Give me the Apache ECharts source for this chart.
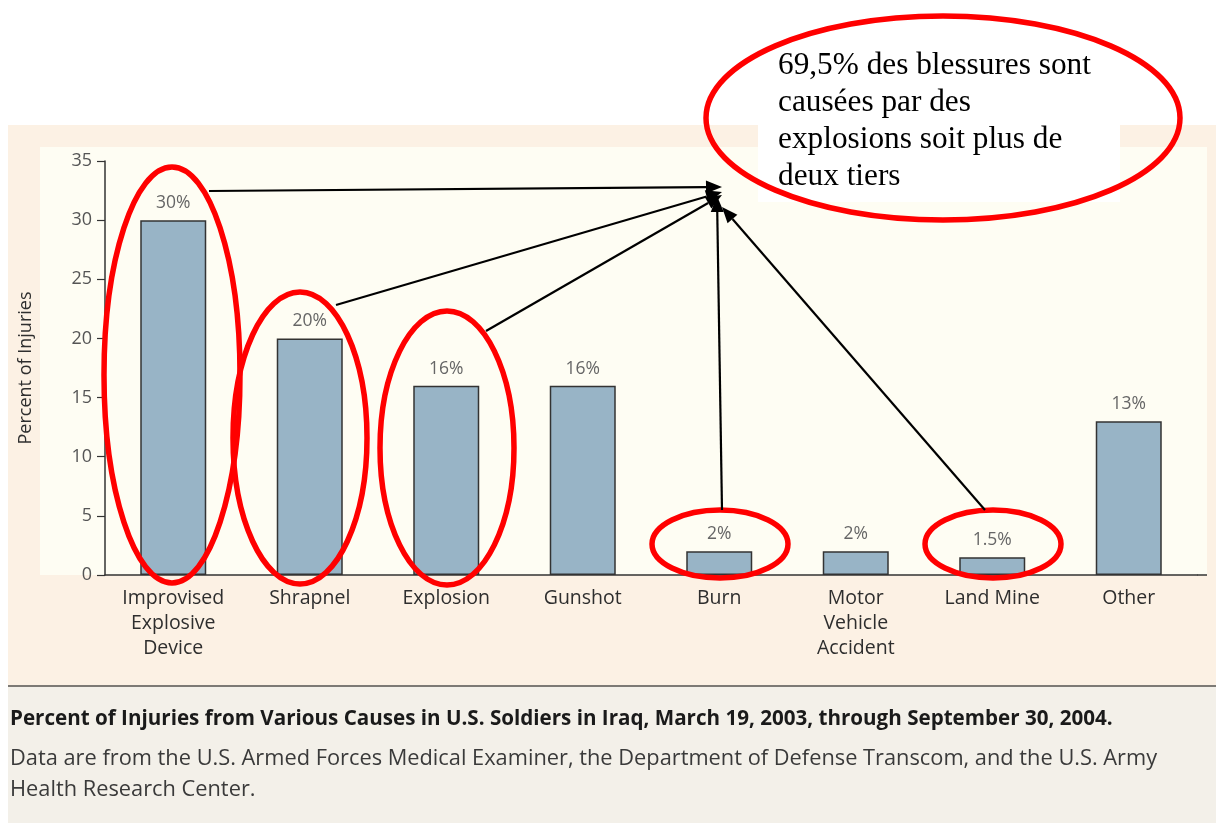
<!DOCTYPE html>
<html>
<head>
<meta charset="utf-8">
<script src="https://cdn.jsdelivr.net/npm/echarts@6/dist/echarts.min.js"></script>
<style>
  html, body { margin: 0; padding: 0; background: #fff; }
  #chart { width: 1216px; height: 823px; }
</style>
</head>
<body>
<div id="chart"></div>
<script>
// data
const categories = [
  'Improvised\nExplosive\nDevice', 'Shrapnel', 'Explosion', 'Gunshot',
  'Burn', 'Motor\nVehicle\nAccident', 'Land Mine', 'Other'
];
const injuryPct = [30, 20, 16, 16, 2, 2, 1.5, 13];

const yMin = 0;
const yMax = 35;
const yStep = 5;

const captionTitle = 'Percent of Injuries from Various Causes in U.S. Soldiers in Iraq, March 19, 2003, through September 30, 2004.';
const captionLines = [
  'Data are from the U.S. Armed Forces Medical Examiner, the Department of Defense Transcom, and the U.S. Army',
  'Health Research Center.'
];
const noteLines = [
  '69,5% des blessures sont',
  'causées par des',
  'explosions soit plus de',
  'deux tiers'
];

const sansFont = '"Open Sans", "DejaVu Sans", sans-serif';
const red = '#ff0000';

// arrow = line + filled triangle at the end
const arrow = (x1, y1, x2, y2) => {
  const ang = Math.atan2(y2 - y1, x2 - x1);
  const len = 16, half = 6.5;
  const bx = x2 - len * Math.cos(ang), by = y2 - len * Math.sin(ang);
  const px = -Math.sin(ang) * half, py = Math.cos(ang) * half;
  return [
    {
      type: 'line', z: 100,
      shape: { x1: x1, y1: y1, x2: bx, y2: by },
      style: { stroke: '#000', lineWidth: 2.2 }
    },
    {
      type: 'polygon', z: 100,
      shape: { points: [[x2, y2], [bx + px, by + py], [bx - px, by - py]] },
      style: { fill: '#000' }
    }
  ];
};

const ring = (cx, cy, rx, ry) => ({
  type: 'ellipse', z: 90,
  shape: { cx: cx, cy: cy, rx: rx, ry: ry },
  style: { fill: null, stroke: red, lineWidth: 5.5 }
});

const chart = echarts.init(document.getElementById('chart'));

const graphics = [
  // panel backgrounds
  { type: 'rect', z: -10, shape: { x: 8, y: 125, width: 1208, height: 561 }, style: { fill: '#fcf1e4' } },
  { type: 'rect', z: -9, shape: { x: 40, y: 147, width: 1167, height: 428 }, style: { fill: '#fefdf3' } },
  { type: 'rect', z: -9, shape: { x: 8, y: 686, width: 1208, height: 137 }, style: { fill: '#f3f0e9' } },
  { type: 'line', z: -8, shape: { x1: 8, y1: 686, x2: 1216, y2: 686 }, style: { stroke: '#7d7a75', lineWidth: 2 } },
  { type: 'line', z: -8, shape: { x1: 1197, y1: 575, x2: 1207, y2: 575 }, style: { stroke: '#333', lineWidth: 1.5 } },
  // caption
  {
    type: 'text', z: 10, left: 10, top: 709,
    style: { text: captionTitle, font: 'bold 20.6px ' + sansFont, fill: '#1a1a1a' }
  },
  {
    type: 'text', z: 10, left: 10, top: 743,
    style: { text: captionLines.join('\n'), font: '21.8px ' + sansFont, fill: '#3a3a3a', lineHeight: 31 }
  },
  // white box behind the note
  { type: 'rect', z: 80, shape: { x: 758, y: 120, width: 362, height: 82 }, style: { fill: '#fff' } },
  {
    type: 'text', z: 95, left: 778, top: 47,
    style: { text: noteLines.join('\n'), font: '31.3px "Liberation Serif", "Times New Roman", serif', fill: '#000', lineHeight: 37 }
  },
  ring(943, 118, 237, 102),
  ring(172, 375, 68, 208),
  ring(300, 438, 67, 146),
  ring(447, 448, 67, 137),
  ring(720, 544, 68, 34),
  ring(993, 544, 68, 34)
].concat(
  arrow(209, 191, 722, 187),
  arrow(336, 305, 722, 192),
  arrow(486, 331, 722, 195),
  arrow(722, 510, 717, 196),
  arrow(985, 510, 722, 207)
);

chart.setOption({
  backgroundColor: '#fff',
  animation: false,
  textStyle: { fontFamily: sansFont },
  grid: { left: 105, right: 19, top: 161, bottom: 248, containLabel: false },
  xAxis: {
    type: 'category',
    data: categories,
    axisLine: { lineStyle: { color: '#333', width: 1.5 } },
    axisTick: { show: false },
    axisLabel: { color: '#2e2e2e', fontSize: 19.5, lineHeight: 25, margin: 11, interval: 0 }
  },
  yAxis: {
    type: 'value',
    min: yMin,
    max: yMax,
    interval: yStep,
    name: 'Percent of Injuries',
    nameLocation: 'middle',
    nameGap: 70,
    nameTextStyle: { color: '#2e2e2e', fontSize: 18 },
    axisLine: { show: true, lineStyle: { color: '#333', width: 1.5 } },
    axisTick: { show: true, length: 8, lineStyle: { color: '#333', width: 1.2 } },
    axisLabel: { color: '#555', fontSize: 18, margin: 13 },
    splitLine: { show: false }
  },
  series: [{
    type: 'bar',
    data: injuryPct,
    barWidth: 66,
    itemStyle: { color: '#98b4c6', borderColor: '#333', borderWidth: 1.5 },
    label: {
      show: true,
      position: 'top',
      distance: 8,
      color: '#666',
      fontSize: 17.5,
      formatter: p => p.value + '%'
    }
  }],
  graphic: graphics
});
</script>
</body>
</html>
